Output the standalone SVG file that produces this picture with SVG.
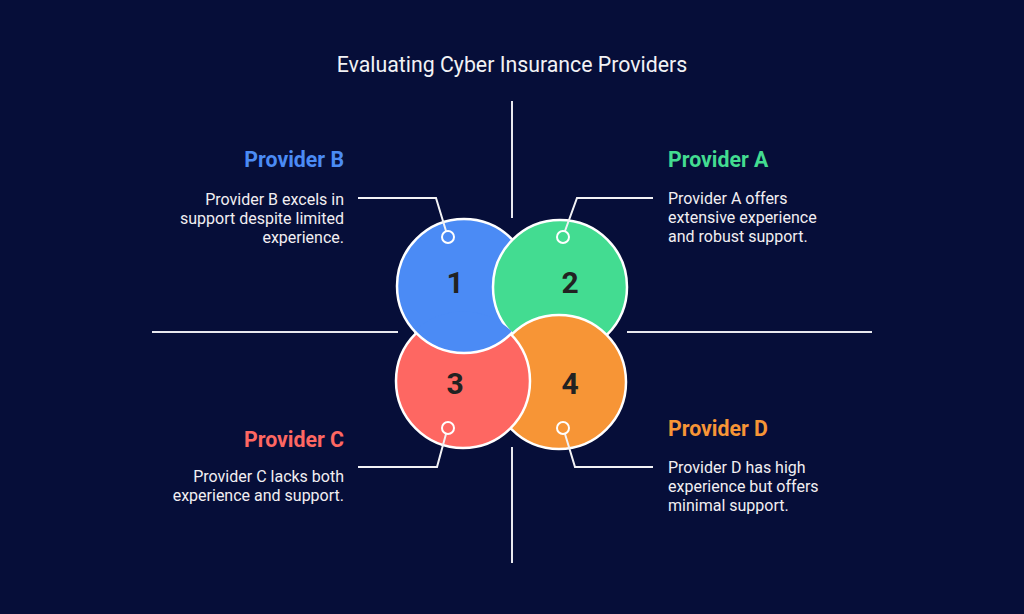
<svg xmlns="http://www.w3.org/2000/svg" width="1024" height="614" viewBox="0 0 1024 614">
<style>
.bg{fill:#060e39}
.axis{stroke:#e8e8ee;stroke-width:2;fill:none}
.conn{stroke:#f2f2f5;stroke-width:2;fill:none}
.big{stroke:#ffffff;stroke-width:2.5}
.dot{stroke:#ffffff;stroke-width:2}
.num{font-family:Roboto,"Liberation Sans",sans-serif;font-weight:700;font-size:30px;fill:#222222;text-anchor:middle}
.title{font-family:Roboto,"Liberation Sans",sans-serif;font-size:21.3px;fill:#f2f2f5;text-anchor:middle}
.head{font-family:Roboto,"Liberation Sans",sans-serif;font-weight:700;font-size:21.3px}
.body{font-family:Roboto,"Liberation Sans",sans-serif;font-size:16px;fill:#f2eef2}
.r{text-anchor:end}
.l{text-anchor:start}
</style>
<defs>
<clipPath id="clipB"><circle cx="463" cy="381" r="69.5"/></clipPath>
</defs>
<rect class="bg" x="0" y="0" width="1024" height="614"/>
<text class="title" x="512" y="72">Evaluating Cyber Insurance Providers</text>
<g id="axes">
<line class="axis" x1="512" y1="101" x2="512" y2="218"/>
<line class="axis" x1="512" y1="447" x2="512" y2="563"/>
<line class="axis" x1="152" y1="332" x2="398" y2="332"/>
<line class="axis" x1="627" y1="332" x2="872" y2="332"/>
</g>
<g id="node-1"><circle class="big" cx="464" cy="286" r="67" fill="#4b8bf5"/></g>
<g id="node-2"><circle class="big" cx="560" cy="287" r="67" fill="#43dc91"/></g>
<g id="node-4"><circle class="big" cx="559" cy="382" r="67" fill="#f79536"/></g>
<g id="node-3"><circle class="big" cx="463" cy="381" r="67" fill="#fe6762"/></g>
<g id="node-1-over" clip-path="url(#clipB)"><circle class="big" cx="464" cy="286" r="67" fill="#4b8bf5"/></g>
<g id="numbers">
<text class="num" x="455" y="293">1</text>
<text class="num" x="570" y="293">2</text>
<text class="num" x="455" y="394">3</text>
<text class="num" x="570" y="394">4</text>
</g>
<g id="connectors">
<polyline class="conn" points="446,231 436,198 358,198"/>
<polyline class="conn" points="565,231 577,198 653,198"/>
<polyline class="conn" points="446,434 437,467 358,467"/>
<polyline class="conn" points="565,434 575,467 653,467"/>
<circle class="dot" cx="448" cy="237" r="6" fill="#4b8bf5"/>
<circle class="dot" cx="563" cy="237" r="6" fill="#43dc91"/>
<circle class="dot" cx="448" cy="428" r="6" fill="#fe6762"/>
<circle class="dot" cx="563" cy="428" r="6" fill="#f79536"/>
</g>
<g id="label-B">
<text class="head r" x="344" y="167" fill="#4b8bf5">Provider B</text>
<text class="body r" x="344" y="205">Provider B excels in</text>
<text class="body r" x="344" y="224">support despite limited</text>
<text class="body r" x="344" y="243">experience.</text>
</g>
<g id="label-A">
<text class="head l" x="668" y="167" fill="#43dc91">Provider A</text>
<text class="body l" x="668" y="204">Provider A offers</text>
<text class="body l" x="668" y="223">extensive experience</text>
<text class="body l" x="668" y="242">and robust support.</text>
</g>
<g id="label-C">
<text class="head r" x="344" y="447" fill="#fe6762">Provider C</text>
<text class="body r" x="344" y="482">Provider C lacks both</text>
<text class="body r" x="344" y="501">experience and support.</text>
</g>
<g id="label-D">
<text class="head l" x="668" y="436" fill="#f79536">Provider D</text>
<text class="body l" x="668" y="473">Provider D has high</text>
<text class="body l" x="668" y="492">experience but offers</text>
<text class="body l" x="668" y="511">minimal support.</text>
</g>
</svg>
